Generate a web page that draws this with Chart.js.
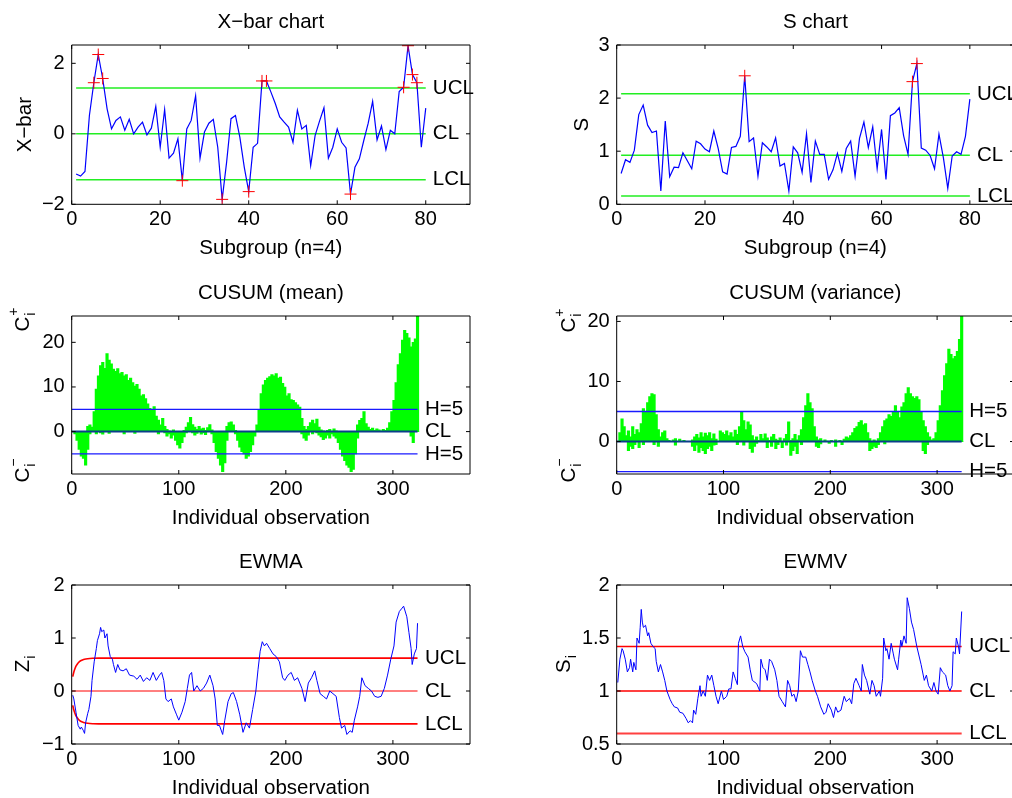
<!DOCTYPE html>
<html>
<head>
<meta charset="utf-8">
<title>Control charts</title>
<script src="https://cdn.jsdelivr.net/npm/chart.js@4.4.1/dist/chart.umd.min.js"></script>
<style>
  html, body { margin: 0; padding: 0; background: #fff; overflow: hidden; width: 1012px; height: 798px; }
  canvas { position: absolute; }
</style>
</head>
<body>
<canvas id="xbar"></canvas>
<canvas id="schart"></canvas>
<canvas id="cusumMean"></canvas>
<canvas id="cusumVar"></canvas>
<canvas id="ewma"></canvas>
<canvas id="ewmv"></canvas>
<script>
const FONT = '"Liberation Sans", Arial, Helvetica, sans-serif';
Chart.defaults.font.family = FONT;
Chart.defaults.font.size = 20;
Chart.defaults.color = '#000';

// ---------- subgroup charts (80 subgroups, n=4) ----------
const subgroups = [...Array(80).keys()].map(i => i + 1);
const xbarVals = [
  -1.14, -1.20, -1.07, 0.52, 1.45, 2.25, 1.57, 0.71, 0.14, 0.38,
  0.48, 0.10, 0.41, 0.00, 0.19, 0.33, -0.03, 0.16, 0.78, -0.38,
  0.69, -0.69, -0.55, -0.14, -1.33, 0.14, 0.38, 1.08, -0.69, 0.05,
  0.30, 0.41, -0.38, -1.86, -0.81, 0.43, 0.52, -0.10, -0.95, -1.64,
  -0.38, -0.27, 1.50, 1.50, 1.19, 0.86, 0.48, 0.33, 0.19, -0.24,
  0.67, 0.14, 0.24, -0.90, -0.05, 0.36, 0.74, -0.69, -0.38, 0.14,
  -0.24, -0.40, -1.71, -0.95, -0.71, -0.19, 0.30, 0.92, -0.17, 0.22,
  -0.45, 0.10, 0.00, 1.20, 1.32, 2.50, 1.68, 1.45, -0.38, 0.73];
const xbarFlagged = [5, 6, 7, 25, 34, 40, 43, 44, 63, 75, 76, 77, 78];
const xbarUCL = 1.3, xbarCL = 0, xbarLCL = -1.3;

const sVals = [
  0.58, 0.84, 0.79, 1.02, 1.69, 1.87, 1.49, 1.35, 1.38, 0.25,
  1.57, 0.52, 0.70, 0.69, 0.97, 0.82, 0.67, 1.19, 1.14, 1.04,
  0.99, 1.38, 1.05, 0.61, 0.57, 1.07, 1.09, 1.28, 2.42, 1.18,
  1.25, 0.53, 1.16, 1.08, 0.99, 1.25, 0.72, 0.77, 0.25, 1.08,
  0.97, 0.60, 1.33, 0.41, 1.19, 0.94, 0.94, 0.47, 0.65, 0.96,
  0.62, 1.05, 1.19, 0.53, 1.24, 1.55, 1.07, 1.46, 0.67, 1.41,
  0.47, 1.67, 1.72, 1.82, 1.29, 0.94, 2.31, 2.65, 1.06, 1.02,
  0.92, 0.67, 1.32, 0.88, 0.30, 0.91, 0.99, 0.94, 1.28, 1.98];
const sFlagged = [29, 67, 68];
const sUCL = 2.08, sCL = 0.925, sLCL = 0.155;

const subgroupTicks = [0, 20, 40, 60, 80];
const xbarTicks = [-2, 0, 2];
const sTicks = [0, 1, 2, 3];

// ---------- individual observation charts ----------
// CUSUM values at every second observation: 1, 3, 5, ... 323
const cusumObs = [...Array(162).keys()].map(i => 1 + 2 * i);
const meanCplus = [
  0, 0, 0, 0, 0, 0, 0, 1.2, 1.5, 1.0,
  4.5, 9.5, 12.5, 14.8, 15.5, 14.2, 17.5, 16.0, 15.2, 14.0,
  13.5, 14.1, 13.0, 13.3, 12.5, 12.8, 11.5, 12.0, 11.0, 10.2,
  10.6, 9.5, 8.0, 8.3, 7.4, 6.2, 5.2, 4.8, 5.6, 3.5,
  2.6, 1.5, 3.0, 1.2, 0.5, 0.2, 0, 0.4, 0, 0,
  0, 0, 0.3, 1.0, 2.0, 3.2, 1.6, 1.0, 0.5, 1.2,
  0.6, 0.8, 0.3, 0.9, 1.6, 0.4, 0, 0, 0, 0,
  0, 0, 1.2, 2.0, 2.2, 1.5, 0.3, 0, 0, 0,
  0, 0, 0, 0, 0, 0, 1.5, 5.0, 8.5, 10.5,
  11.5, 12.0, 12.3, 12.8, 12.5, 13.0, 12.0, 12.2, 10.8, 10.0,
  8.0, 8.5, 7.2, 7.0, 6.5, 6.0, 5.5, 3.0, 1.2, 0.5,
  1.2, 2.0, 2.6, 1.8, 2.8, 1.0, 0.4, 0.2, 0, 0.3,
  0.5, 0, 0.6, 0.2, 0, 0, 0, 0, 0, 0,
  0, 0, 0, 1.5, 2.5, 3.0, 4.5, 1.8, 1.0, 0.5,
  0.8, 0.3, 0.6, 0.4, 0.2, 0.5, 0.3, 0.8, 2.0, 4.5,
  7.0, 11.0, 15.0, 17.5, 20.5, 22.7, 22.0, 21.0, 19.0, 20.0,
  20.8, 25.9];
const meanCminus = [
  0, -0.5, -2.0, -4.0, -5.5, -6.0, -7.5, -4.0, -0.5, 0,
  0, -0.5, 0, -0.3, -0.6, 0, 0, -0.4, 0, 0,
  0, 0, 0, 0, -0.5, 0, 0, 0, 0, -0.4,
  0, 0, 0, 0, 0, 0, 0, 0, 0, 0,
  -0.5, 0, 0, -0.3, -1.0, -0.5, -1.5, -0.8, -2.0, -3.0,
  -3.7, -2.5, -1.2, -0.3, 0, 0, -0.3, -0.8, -0.4, 0,
  -0.6, -0.3, -0.7, 0, 0, -0.5, -2.5, -4.5, -6.0, -7.5,
  -9.0, -7.0, -2.0, 0, 0, 0, -0.5, -2.0, -3.5, -4.5,
  -5.0, -6.0, -5.5, -4.5, -3.0, -1.0, 0, 0, 0, 0,
  0, 0, 0, 0, 0, 0, 0, 0, 0, 0,
  0, 0, 0, 0, 0, 0, 0, -0.5, -1.5, -2.0,
  -0.8, 0, -0.5, 0, -0.3, -0.8, -1.2, -1.8, -1.5, -0.8,
  -1.5, -0.5, -1.0, -1.5, -2.5, -4.0, -5.5, -6.5, -7.5, -8.0,
  -9.0, -8.5, -5.0, -1.5, 0, 0, 0, 0, 0, 0,
  0, 0, 0, 0, 0, 0, 0, 0, 0, 0,
  0, 0, 0, 0, 0, 0, 0, 0, -1.0, -2.5,
  0, 0];
const varCplus = [
  0, 1.5, 3.8, 2.5, 1.0, 1.8, 0.8, 2.5, 1.2, 2.0,
  1.5, 3.0, 5.5, 5.0, 6.5, 7.5, 8.0, 7.8, 4.5, 2.0,
  0.8, 1.5, 1.8, 0.5, 0.2, 0, 0.3, 0.5, 0, 0.4,
  0, 0.2, 0, 0, 0, 0.3, 0.8, 1.2, 0.6, 1.5,
  0.8, 1.4, 1.0, 1.5, 0.5, 1.3, 0.4, 0, 1.8, 1.5,
  1.2, 1.8, 1.0, 1.5, 0.8, 1.9, 1.2, 2.5, 5.0, 3.5,
  2.0, 3.3, 2.8, 1.0, 0.3, 0.8, 0.2, 1.2, 0.5, 1.3,
  0.6, 0.2, 0.8, 1.2, 0.4, 0.2, 0.6, 0, 0.5, 1.2,
  3.3, 0.2, 0.5, 1.2, 0.3, 1.0, 2.0, 4.0, 6.0, 8.0,
  6.5, 5.5, 2.5, 0.8, 0.3, 0.5, 0, 0.3, 0.1, 0,
  0.2, 0, 0.3, 0, 0.2, 0, 0.4, 0.8, 0.6, 1.0,
  1.5, 2.2, 2.5, 3.2, 3.5, 2.8, 3.0, 1.5, 0.5, 0,
  0.3, 0, 0.5, 1.5, 2.5, 3.5, 3.8, 4.5, 4.2, 5.0,
  6.0, 5.0, 4.0, 5.8, 6.5, 8.0, 9.0, 8.0, 7.5, 7.2,
  7.5, 7.0, 5.0, 3.5, 2.5, 1.5, 0.8, 0.3, 0.5, 1.5,
  3.5, 6.0, 8.5, 11.0, 13.0, 15.4, 14.5, 13.8, 14.2, 15.0,
  17.0, 20.9];
const varCminus = [
  0, 0, 0, 0, 0, -1.5, -0.8, -1.2, -0.5, 0,
  -1.0, 0, -0.5, 0, 0, 0, 0, -0.5, 0, -0.8,
  0, 0, 0, 0, 0, 0, 0, -0.6, 0, 0,
  0, 0, 0, 0, 0, -0.8, -1.5, -0.6, -1.8, -1.0,
  -1.5, -2.0, -1.2, -0.8, -1.5, -0.6, -0.5, 0, 0, 0,
  0, 0, 0, 0, 0, 0, -0.5, 0, 0, -0.6,
  0, 0, -1.2, -1.8, -0.8, -0.3, 0, 0, 0, 0,
  -1.0, 0, -0.8, 0, -1.2, -0.5, 0, -1.0, 0, -0.6,
  0, -2.3, -1.5, -0.8, -2.0, 0, -0.5, 0, 0, 0,
  0, 0, 0, -0.8, -1.0, -0.4, 0, 0, 0, -0.3,
  0, 0, -0.8, 0, 0, -0.5, 0, 0, 0, 0,
  0, 0, 0, 0, 0, 0, 0, 0, -1.5, -1.2,
  -0.8, -1.0, -0.5, 0, 0, -0.4, 0, 0, 0, 0,
  0, 0, 0, 0, 0, 0, 0, 0, 0, 0,
  0, 0, 0, -1.5, -2.0, -0.5, 0, 0, 0, 0,
  0, 0, 0, 0, 0, 0, 0, 0, 0, 0,
  0, 0];
const cusumH = 5;

// EWMA statistic read at [observation, value]
const ewmaPts = [
  [1,-0.08],[2,-0.15],[4,-0.4],[6,-0.65],[8,-0.72],[9,-0.68],[11,-0.75],[12,-0.8],[13,-0.6],[15,-0.42],
  [16,-0.35],[18,-0.1],[19,0.2],[21,0.55],[23,0.8],[24,0.95],[26,1.08],[27,1.2],[28,1.12],[30,1.15],
  [31,1.0],[33,1.08],[34,0.85],[36,0.65],[38,0.6],[39,0.5],[41,0.35],[43,0.5],[45,0.4],[48,0.38],
  [51,0.42],[54,0.3],[58,0.28],[61,0.22],[64,0.3],[67,0.18],[70,0.25],[73,0.2],[76,0.35],[79,0.2],
  [82,0.3],[84,0.35],[86,0.2],[88,-0.15],[90,-0.2],[93,-0.15],[95,-0.3],[98,-0.45],[100,-0.55],[103,-0.4],
  [106,-0.2],[108,0.05],[110,0.3],[112,0.35],[114,0.0],[117,0.1],[120,0.0],[123,0.05],[126,0.15],[129,0.3],
  [132,0.1],[134,-0.15],[136,-0.65],[138,-0.65],[141,-0.82],[143,-0.55],[146,-0.2],[149,-0.05],[151,-0.03],[154,-0.2],
  [157,-0.45],[160,-0.78],[163,-0.6],[166,-0.7],[169,-0.35],[172,0.0],[174,0.4],[176,0.75],[178,0.93],[180,0.85],
  [182,0.9],[185,0.8],[188,0.7],[191,0.65],[194,0.55],[197,0.25],[199,0.2],[202,0.3],[205,0.35],[208,0.2],
  [211,0.25],[215,0.05],[218,-0.2],[221,0.15],[224,0.25],[227,0.38],[229,0.2],[232,-0.05],[235,-0.1],[238,-0.15],
  [241,0.0],[244,-0.05],[247,-0.1],[250,-0.5],[252,-0.7],[255,-0.65],[257,-0.82],[260,-0.75],[262,-0.78],[264,-0.55],
  [267,-0.3],[269,-0.1],[271,0.25],[274,0.1],[277,0.05],[280,0.0],[283,-0.1],[286,-0.12],[289,-0.1],[292,0.05],
  [295,0.3],[298,0.6],[301,0.85],[303,1.3],[306,1.5],[308,1.55],[310,1.6],[313,1.4],[315,1.1],[317,0.8],
  [318,0.5],[320,0.7],[322,0.8],[323,1.28]];
const ewmaLimObs = [1, 2, 3, 4, 5, 6, 7, 8, 10, 12, 15, 20, 25, 323];
const ewmaUCL = [0.27, 0.36, 0.42, 0.47, 0.50, 0.53, 0.55, 0.565, 0.585, 0.60, 0.61, 0.617, 0.62, 0.62];
const ewmaLCL = [-0.27, -0.36, -0.42, -0.47, -0.50, -0.53, -0.55, -0.565, -0.585, -0.60, -0.61, -0.617, -0.62, -0.62];

// EWMV statistic read at [observation, value]
const ewmvPts = [
  [1,1.08],[3,1.3],[5,1.4],[6,1.38],[8,1.3],[10,1.18],[12,1.22],[13,1.3],[15,1.18],[16,1.27],
  [18,1.2],[19,1.5],[21,1.45],[22,1.6],[23,1.77],[24,1.65],[25,1.6],[27,1.62],[29,1.52],[30,1.55],
  [32,1.45],[34,1.42],[36,1.4],[37,1.28],[39,1.18],[41,1.25],[43,1.18],[45,1.1],[47,1.0],[50,0.92],
  [52,0.88],[54,0.85],[57,0.84],[59,0.8],[62,0.79],[65,0.74],[67,0.7],[69,0.72],[71,0.7],[72,0.82],
  [74,0.78],[76,0.93],[78,1.05],[79,0.95],[81,1.0],[83,0.95],[85,1.15],[87,1.1],[89,1.15],[91,1.05],
  [93,0.95],[95,0.88],[98,1.0],[100,0.92],[103,0.95],[105,1.02],[107,1.02],[109,1.18],[111,1.12],[113,1.06],
  [114,1.45],[116,1.52],[118,1.42],[120,1.37],[123,1.32],[125,1.2],[127,1.1],[131,1.07],[134,1.0],[135,1.3],
  [137,1.22],[139,1.2],[141,1.1],[143,1.3],[145,1.28],[148,1.2],[150,1.1],[152,0.95],[155,0.9],[158,0.85],
  [160,1.1],[162,1.05],[164,0.95],[166,0.97],[168,0.9],[170,1.0],[172,1.38],[174,1.32],[177,1.32],[179,1.25],
  [181,1.18],[183,1.1],[186,1.0],[188,0.95],[191,0.85],[194,0.78],[196,0.8],[198,0.88],[201,0.82],[203,0.75],
  [205,0.85],[207,0.8],[210,0.82],[213,0.95],[215,0.9],[218,0.93],[220,0.88],[222,1.07],[224,1.12],[227,1.05],
  [229,1.0],[230,1.25],[232,1.15],[234,1.1],[237,0.97],[239,1.1],[241,1.05],[243,0.95],[246,1.0],[247,0.95],
  [249,1.12],[250,1.5],[252,1.38],[253,1.4],[255,1.3],[257,1.45],[259,1.35],[260,1.3],[263,1.2],[264,1.3],
  [266,1.48],[267,1.42],[269,1.52],[271,1.45],[272,1.88],[274,1.78],[276,1.65],[278,1.58],[281,1.42],[285,1.25],
  [288,1.1],[290,1.15],[292,1.05],[295,1.0],[297,1.08],[299,1.0],[301,0.97],[303,1.22],[305,1.18],[308,1.15],
  [310,1.05],[312,1.0],[314,1.05],[315,1.37],[317,1.35],[318,1.5],[320,1.42],[321,1.35],[323,1.75]];
const ewmvUCL = 1.42, ewmvCL = 1, ewmvLCL = 0.6;

const obsTicks = [0, 100, 200, 300];
const cusumTicks = [0, 10, 20];
const ewmaTicks = [-1, 0, 1, 2];
const ewmvTicks = [0.5, 1, 1.5, 2];
const lastObs = 323;

// ---------- helpers ----------
const fmt = v => (v < 0 ? '\u2212' + Math.abs(v) : String(v));
const hline = (x0, x1, y) => [{ x: x0, y: y }, { x: x1, y: y }];

function lineSet(data, color, width, order) {
  return { type: 'line', data, borderColor: color, borderWidth: width, pointRadius: 0,
           fill: false, tension: 0, order };
}
function crossSet(data) {
  return { type: 'line', data, showLine: false, pointStyle: 'cross', pointRadius: 6,
           pointBorderColor: '#ff0000', pointBorderWidth: 1, order: 0 };
}
function barSet(data) {
  return { type: 'bar', data, backgroundColor: '#00ff00', borderWidth: 0, grouped: false,
           barThickness: 2.5, order: 5 };
}

function drawRotLabel(ctx, x, y, base, sup, sub) {
  ctx.save();
  ctx.translate(x, y);
  ctx.rotate(-Math.PI / 2);
  ctx.textBaseline = 'middle';
  ctx.textAlign = 'left';
  ctx.font = '20.5px ' + FONT;
  const w = ctx.measureText(base).width;
  ctx.font = '14px ' + FONT;
  const sw = Math.max(sup ? ctx.measureText(sup).width : 0, sub ? ctx.measureText(sub).width : 0);
  const x0 = -(w + sw) / 2;
  ctx.font = '20.5px ' + FONT;
  ctx.fillText(base, x0, 0);
  ctx.font = '14px ' + FONT;
  if (sup) ctx.fillText(sup, x0 + w + 1, -9);
  if (sub) ctx.fillText(sub, x0 + w + 1, 8);
  ctx.restore();
}

function matlabAxes(spec) {
  return {
    id: 'matlabAxes',
    afterDraw(chart) {
      const ctx = chart.ctx, a = chart.chartArea;
      const xs = chart.scales.x, ys = chart.scales.y;
      ctx.save();
      ctx.strokeStyle = '#000';
      ctx.lineWidth = 1;
      ctx.beginPath();
      ctx.rect(a.left, a.top, a.right - a.left, a.bottom - a.top);
      spec.xTicks.forEach(v => {
        const p = xs.getPixelForValue(v);
        ctx.moveTo(p, a.bottom); ctx.lineTo(p, a.bottom - 4);
        ctx.moveTo(p, a.top); ctx.lineTo(p, a.top + 4);
      });
      spec.yTicks.forEach(v => {
        const p = ys.getPixelForValue(v);
        ctx.moveTo(a.left, p); ctx.lineTo(a.left + 4, p);
        ctx.moveTo(a.right, p); ctx.lineTo(a.right - 4, p);
      });
      ctx.stroke();

      ctx.fillStyle = '#000';
      ctx.font = '20.5px ' + FONT;
      ctx.textAlign = 'center';
      ctx.textBaseline = 'middle';
      const cx = (a.left + a.right) / 2;
      ctx.fillText(spec.title, cx, a.top - 22.5);
      ctx.fillText(spec.xLabel, cx, a.bottom + 44);

      ctx.textAlign = 'left';
      spec.marks.forEach(m => ctx.fillText(m[0], xs.getPixelForValue(spec.markX), ys.getPixelForValue(m[1])));

      spec.yLabels.forEach(l => {
        if (l.plain) {
          ctx.save();
          ctx.translate(l.x, l.y(a));
          ctx.rotate(-Math.PI / 2);
          ctx.textAlign = 'center';
          ctx.fillText(l.plain, 0, 0);
          ctx.restore();
        } else {
          drawRotLabel(ctx, l.x, l.y(a), l.base, l.sup, l.sub);
        }
      });
      ctx.restore();
    }
  };
}

function makeChart(id, spec) {
  const el = document.getElementById(id);
  el.width = spec.w; el.height = spec.h;
  el.style.left = spec.left + 'px'; el.style.top = spec.top + 'px';
  return new Chart(el, {
    type: spec.type || 'line',
    data: { datasets: spec.datasets },
    options: {
      responsive: false, animation: false, events: [],
      layout: { padding: { left: 0, top: spec.padTop, right: spec.padRight, bottom: 0 } },
      plugins: { legend: { display: false }, tooltip: { enabled: false } },
      scales: {
        x: {
          type: 'linear', min: spec.xMin, max: spec.xMax, offset: false,
          grid: { display: false, drawTicks: false }, border: { display: false },
          ticks: { padding: 3, maxRotation: 0, autoSkip: false, callback: fmt },
          afterBuildTicks: s => { s.ticks = spec.xTicks.map(v => ({ value: v })); },
          afterFit: s => { s.height = spec.xAxisH; }
        },
        y: {
          type: 'linear', min: spec.yMin, max: spec.yMax,
          grid: { display: false, drawTicks: false }, border: { display: false },
          ticks: { padding: 7, autoSkip: false, callback: fmt },
          afterBuildTicks: s => { s.ticks = spec.yTicks.map(v => ({ value: v })); },
          afterFit: s => { s.width = spec.yAxisW; }
        }
      }
    },
    plugins: [matlabAxes(spec)]
  });
}

// layout of the 3x2 grid
const col1 = { left: 0, w: 545, yAxisW: 71.7, padRight: 75 };
const col2 = { left: 545, w: 500, yAxisW: 71.7, padRight: 31 };
const row1 = { top: 0, h: 268, padTop: 45, xAxisH: 63.7 };
const row2 = { top: 270, h: 268, padTop: 46, xAxisH: 64 };
const row3 = { top: 540, h: 268, padTop: 45, xAxisH: 64 };

const green = '#22ee22';
const markSub = 81.6, markObs = 330;

// X-bar chart
makeChart('xbar', Object.assign({}, col1, row1, {
  title: 'X\u2212bar chart', xLabel: 'Subgroup (n=4)',
  xMin: 0, xMax: 90, yMin: -2, yMax: 2.52, xTicks: subgroupTicks, yTicks: xbarTicks,
  markX: markSub, marks: [['UCL', xbarUCL], ['CL', xbarCL], ['LCL', xbarLCL]],
  yLabels: [{ plain: 'X\u2212bar', x: 25.5, y: a => (a.top + a.bottom) / 2 }],
  datasets: [
    crossSet(xbarFlagged.map(i => ({ x: i, y: xbarVals[i - 1] }))),
    lineSet(subgroups.map((s, i) => ({ x: s, y: xbarVals[i] })), '#0000ff', 1.2, 1),
    lineSet(hline(1, 80, xbarUCL), green, 1.5, 2),
    lineSet(hline(1, 80, xbarCL), green, 1.5, 2),
    lineSet(hline(1, 80, xbarLCL), green, 1.5, 2)
  ]
}));

// S chart
makeChart('schart', Object.assign({}, col2, row1, {
  title: 'S chart', xLabel: 'Subgroup (n=4)',
  xMin: 0, xMax: 90, yMin: 0, yMax: 3, xTicks: subgroupTicks, yTicks: sTicks,
  markX: markSub, marks: [['UCL', sUCL], ['CL', sCL], ['LCL', sLCL]],
  yLabels: [{ plain: 'S', x: 37.5, y: a => (a.top + a.bottom) / 2 }],
  datasets: [
    crossSet(sFlagged.map(i => ({ x: i, y: sVals[i - 1] }))),
    lineSet(subgroups.map((s, i) => ({ x: s, y: sVals[i] })), '#0000ff', 1.2, 1),
    lineSet(hline(1, 80, sUCL), green, 1.5, 2),
    lineSet(hline(1, 80, sCL), green, 1.5, 2),
    lineSet(hline(1, 80, sLCL), green, 1.5, 2)
  ]
}));

// CUSUM (mean)
makeChart('cusumMean', Object.assign({}, col1, row2, {
  type: 'bar', title: 'CUSUM (mean)', xLabel: 'Individual observation',
  xMin: 0, xMax: 372, yMin: -9.5, yMax: 25.9, xTicks: obsTicks, yTicks: cusumTicks,
  markX: markObs, marks: [['H=5', cusumH], ['CL', 0], ['H=5', -cusumH]],
  yLabels: [
    { base: 'C', sup: '+', sub: 'i', x: 23, y: a => a.top + 4 },
    { base: 'C', sup: '\u2212', sub: 'i', x: 23, y: a => a.bottom - 3 }
  ],
  datasets: [
    lineSet(hline(0, lastObs, cusumH), '#1a1aff', 1.3, 1),
    lineSet(hline(0, lastObs, 0), '#0b3f8a', 2, 1),
    lineSet(hline(0, lastObs, -cusumH), '#1a1aff', 1.3, 1),
    barSet(cusumObs.map((o, i) => ({ x: o, y: meanCplus[i] }))),
    barSet(cusumObs.map((o, i) => ({ x: o, y: meanCminus[i] })))
  ]
}));

// CUSUM (variance)
makeChart('cusumVar', Object.assign({}, col2, row2, {
  type: 'bar', title: 'CUSUM (variance)', xLabel: 'Individual observation',
  xMin: 0, xMax: 372, yMin: -5.4, yMax: 20.9, xTicks: obsTicks, yTicks: cusumTicks,
  markX: markObs, marks: [['H=5', cusumH], ['CL', 0], ['H=5', -cusumH]],
  yLabels: [
    { base: 'C', sup: '+', sub: 'i', x: 24, y: a => a.top + 5 },
    { base: 'C', sup: '\u2212', sub: 'i', x: 24, y: a => a.bottom - 3 }
  ],
  datasets: [
    lineSet(hline(0, lastObs, cusumH), '#1a1aff', 1.3, 1),
    lineSet(hline(0, lastObs, 0), '#0b3f8a', 2, 1),
    lineSet(hline(0, lastObs, -cusumH), '#1a1aff', 1.3, 1),
    barSet(cusumObs.map((o, i) => ({ x: o, y: varCplus[i] }))),
    barSet(cusumObs.map((o, i) => ({ x: o, y: varCminus[i] })))
  ]
}));

// EWMA
makeChart('ewma', Object.assign({}, col1, row3, {
  title: 'EWMA', xLabel: 'Individual observation',
  xMin: 0, xMax: 372, yMin: -1, yMax: 2, xTicks: obsTicks, yTicks: ewmaTicks,
  markX: markObs, marks: [['UCL', ewmaUCL[ewmaUCL.length - 1]], ['CL', 0], ['LCL', ewmaLCL[ewmaLCL.length - 1]]],
  yLabels: [{ base: 'Z', sub: 'i', x: 23.5, y: a => (a.top + a.bottom) / 2 }],
  datasets: [
    lineSet(ewmaPts.map(p => ({ x: p[0], y: p[1] })), '#0000ff', 1, 1),
    Object.assign(lineSet(ewmaLimObs.map((o, i) => ({ x: o, y: ewmaUCL[i] })), '#ff0000', 1.6, 2), { cubicInterpolationMode: 'monotone' }),
    lineSet(hline(0, lastObs, 0), '#ff0000', 1, 2),
    Object.assign(lineSet(ewmaLimObs.map((o, i) => ({ x: o, y: ewmaLCL[i] })), '#ff0000', 1.6, 2), { cubicInterpolationMode: 'monotone' })
  ]
}));

// EWMV
makeChart('ewmv', Object.assign({}, col2, row3, {
  title: 'EWMV', xLabel: 'Individual observation',
  xMin: 0, xMax: 372, yMin: 0.5, yMax: 2, xTicks: obsTicks, yTicks: ewmvTicks,
  markX: markObs, marks: [['UCL', ewmvUCL], ['CL', ewmvCL], ['LCL', ewmvLCL]],
  yLabels: [{ base: 'S', sub: 'i', x: 19, y: a => (a.top + a.bottom) / 2 }],
  datasets: [
    lineSet(ewmvPts.map(p => ({ x: p[0], y: p[1] })), '#0000ff', 1, 1),
    lineSet(hline(0, lastObs, ewmvUCL), '#ff0000', 1.3, 2),
    lineSet(hline(0, lastObs, ewmvCL), '#ff0000', 1.3, 2),
    lineSet(hline(0, lastObs, ewmvLCL), '#ff4040', 2, 2)
  ]
}));
</script>
</body>
</html>
